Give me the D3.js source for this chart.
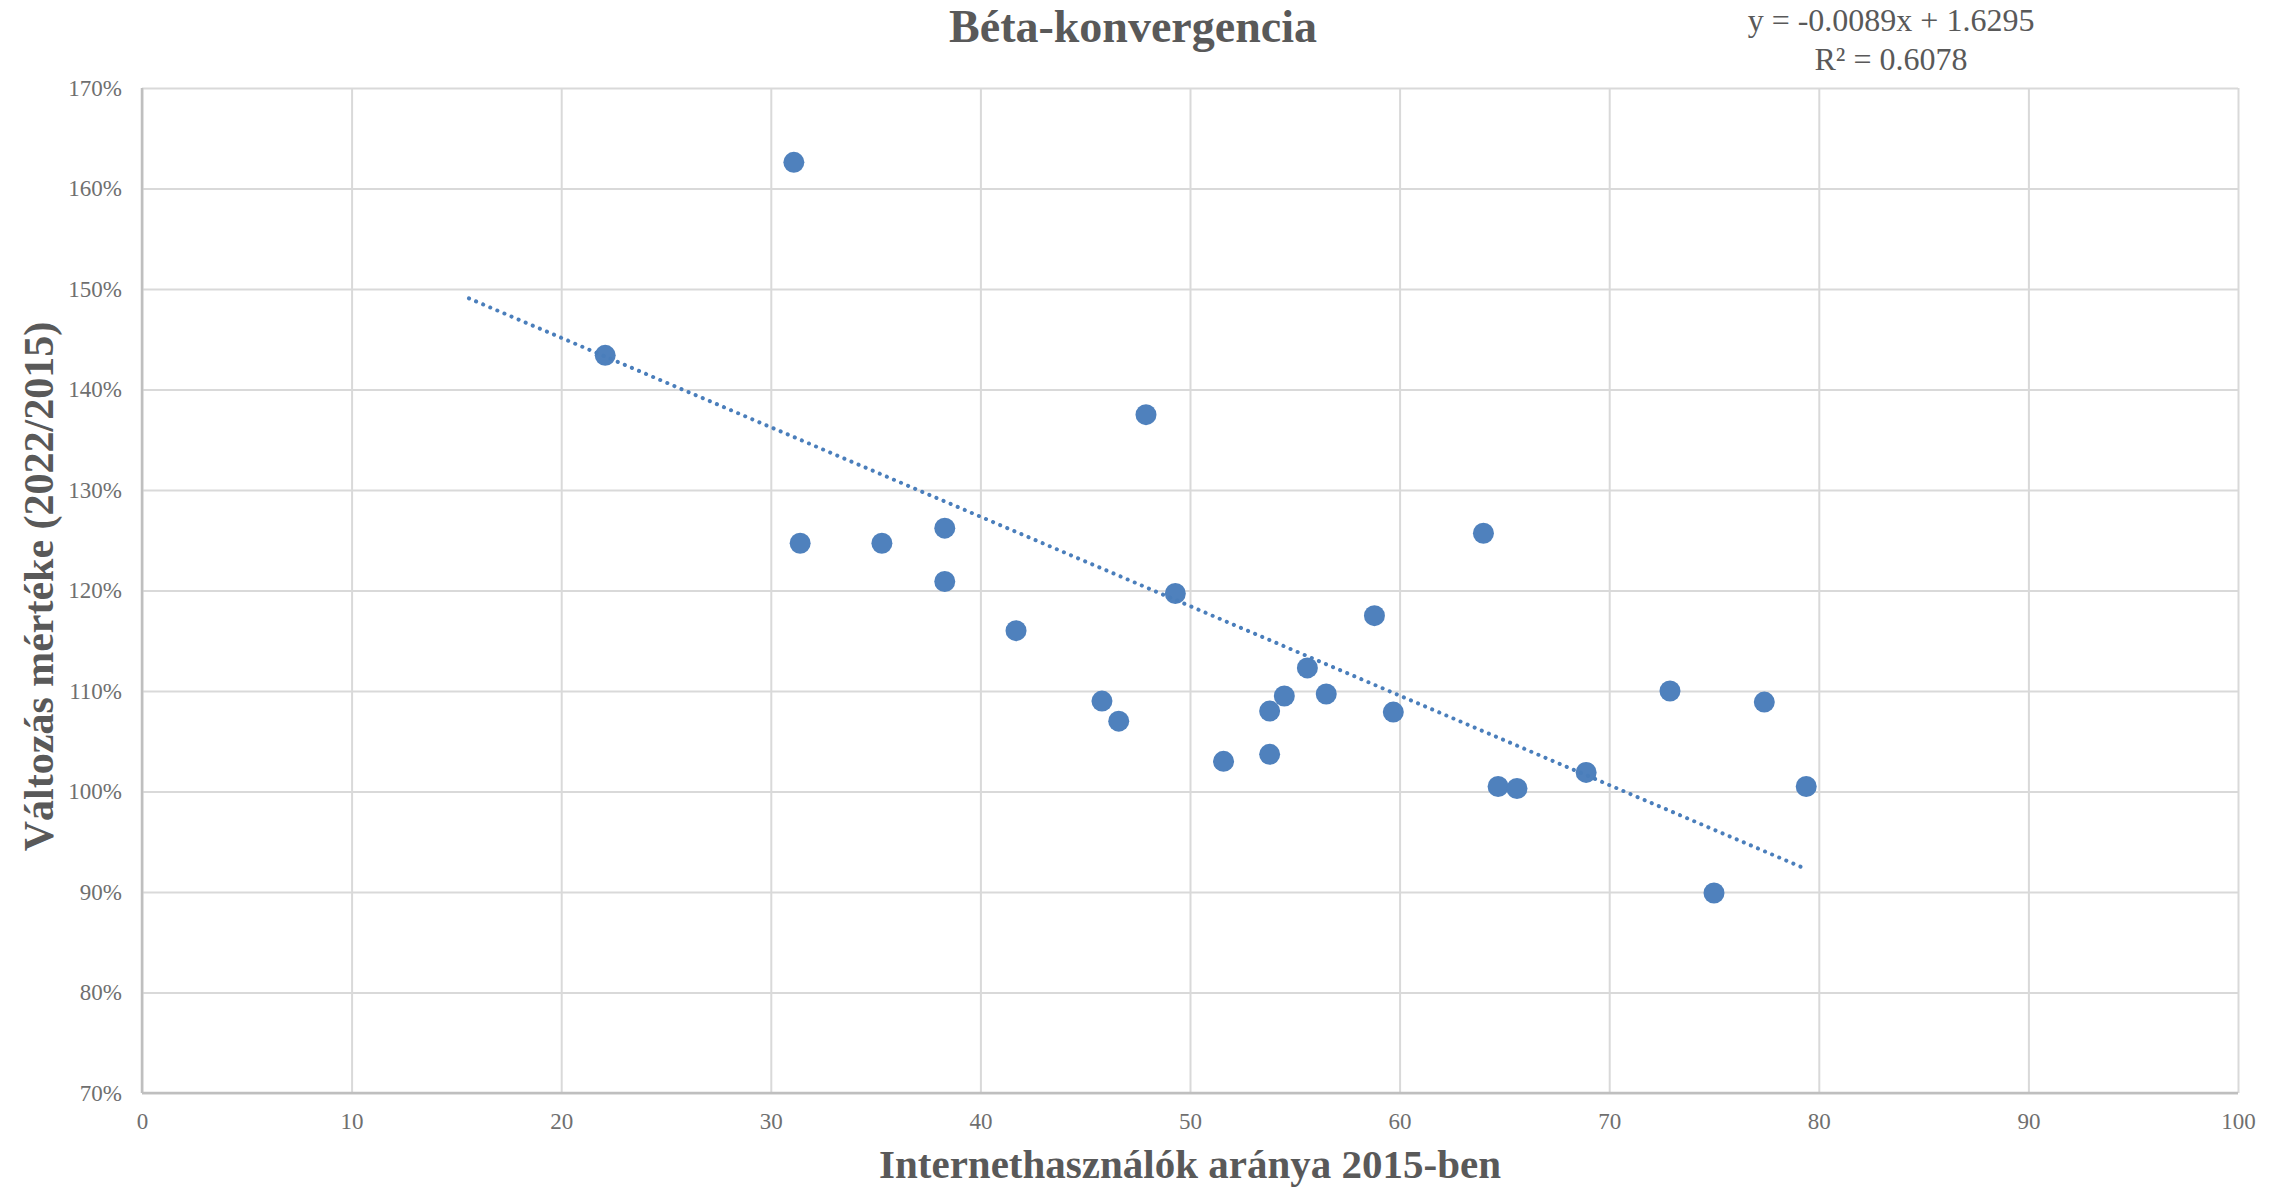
<!DOCTYPE html>
<html>
<head>
<meta charset="utf-8" />
<title>Béta-konvergencia</title>
<style type="text/css">
  html, body { margin: 0; background: #fff; }
  svg text { font-family: "Liberation Serif", "DejaVu Serif", serif; }
  .grid line { stroke: #d9d9d9; stroke-width: 2px; }
  .grid path { display: none; }
  .ticks path, .ticks line { display: none; }
  .ticks text { fill: #6f6f6f; font-size: 23px; }
</style>
</head>
<body>
<div id="container"></div>
<script src="https://cdn.jsdelivr.net/npm/d3@7"></script>
<script>
// internet users share in 2015 (%)
var usersShare = [22.1, 31.1, 31.4, 35.3, 38.3, 38.3, 41.7, 47.9, 49.3, 45.8,
  46.6, 51.6, 53.8, 53.8, 54.5, 55.6, 56.5, 58.8, 59.7, 64.0,
  64.7, 65.6, 68.9, 72.9, 75.0, 77.4, 79.4];
// change 2022/2015 (ratio)
var changeRatio = [1.434, 1.626, 1.247, 1.247, 1.262, 1.209, 1.160, 1.375, 1.197, 1.090,
  1.070, 1.030, 1.080, 1.037, 1.095, 1.123, 1.097, 1.175, 1.079, 1.257,
  1.005, 1.003, 1.019, 1.100, 0.899, 1.089, 1.005];

var xTicks = [0, 10, 20, 30, 40, 50, 60, 70, 80, 90, 100];
var yTicks = [0.7, 0.8, 0.9, 1.0, 1.1, 1.2, 1.3, 1.4, 1.5, 1.6, 1.7];

// linear trendline as reported in the chart
var trendSlope = -0.0089;
var trendIntercept = 1.6295;
var trendR2 = 0.6078;
var trendFrom = 15.6;

var W = 2287, H = 1191;
var margin = {left: 142, right: 49, top: 88, bottom: 98};

var svg = d3.select("#container").append("svg")
    .attr("width", W)
    .attr("height", H);

var x = d3.scaleLinear().domain([0, 100]).range([margin.left, W - margin.right]);
var y = d3.scaleLinear().domain([0.7, 1.7]).range([H - margin.bottom, margin.top]);

// gridlines
svg.append("g")
    .attr("class", "grid")
    .attr("transform", "translate(0," + (H - margin.bottom) + ")")
    .call(d3.axisBottom(x).tickValues(xTicks).tickSize(-(H - margin.bottom - margin.top)).tickFormat(""));
svg.append("g")
    .attr("class", "grid")
    .attr("transform", "translate(" + margin.left + ",0)")
    .call(d3.axisLeft(y).tickValues(yTicks).tickSize(-(W - margin.right - margin.left)).tickFormat(""));

// axis lines
svg.append("line")
    .attr("x1", x(0)).attr("x2", x(100))
    .attr("y1", y(0.7)).attr("y2", y(0.7))
    .attr("stroke", "#bfbfbf").attr("stroke-width", 2.5);
svg.append("line")
    .attr("x1", x(0)).attr("x2", x(0))
    .attr("y1", y(0.7)).attr("y2", y(1.7))
    .attr("stroke", "#bfbfbf").attr("stroke-width", 2.5);

// tick labels
svg.append("g")
    .attr("class", "ticks")
    .attr("transform", "translate(" + margin.left + ",0)")
    .call(d3.axisLeft(y).tickValues(yTicks).tickSize(0).tickPadding(20).tickFormat(d3.format(".0%")));
svg.append("g")
    .attr("class", "ticks")
    .attr("transform", "translate(0," + (H - margin.bottom) + ")")
    .call(d3.axisBottom(x).tickValues(xTicks).tickSize(0).tickPadding(20).tickFormat(d3.format("d")));

// points
var pts = d3.zip(usersShare, changeRatio);
svg.append("g").selectAll("circle")
    .data(pts)
  .enter().append("circle")
    .attr("cx", function(d) { return x(d[0]); })
    .attr("cy", function(d) { return y(d[1]); })
    .attr("r", 10.5)
    .attr("fill", "#4f81bd");

// trendline
var trendEnd = d3.max(usersShare);
var trendPts = [trendFrom, trendEnd].map(function(v) { return [v, trendIntercept + trendSlope * v]; });
var line = d3.line()
    .x(function(d) { return x(d[0]); })
    .y(function(d) { return y(d[1]); });
svg.append("path")
    .datum(trendPts)
    .attr("d", line)
    .attr("fill", "none")
    .attr("stroke", "#4a7ebb")
    .attr("stroke-width", 4)
    .attr("stroke-linecap", "round")
    .attr("stroke-dasharray", "0.1 7.6");

// titles
svg.append("text")
    .attr("x", 1133).attr("y", 42)
    .attr("text-anchor", "middle")
    .attr("font-size", 46)
    .attr("font-weight", "bold")
    .attr("fill", "#595959")
    .text("Béta-konvergencia");

svg.append("text")
    .attr("x", (x(0) + x(100)) / 2).attr("y", 1178)
    .attr("text-anchor", "middle")
    .attr("font-size", 41)
    .attr("font-weight", "bold")
    .attr("fill", "#595959")
    .text("Internethasználók aránya 2015-ben");

svg.append("text")
    .attr("transform", "translate(53," + ((y(0.7) + y(1.7)) / 2 - 4) + ") rotate(-90)")
    .attr("text-anchor", "middle")
    .attr("font-size", 42)
    .attr("font-weight", "bold")
    .attr("fill", "#595959")
    .text("Változás mértéke (2022/2015)");

// trendline label
var eq = svg.append("text")
    .attr("text-anchor", "middle")
    .attr("font-size", 32)
    .attr("fill", "#595959");
eq.append("tspan").attr("x", 1891).attr("y", 31)
    .text("y = " + trendSlope.toFixed(4) + "x + " + trendIntercept.toFixed(4));
eq.append("tspan").attr("x", 1891).attr("y", 70)
    .text("R² = " + trendR2.toFixed(4));
</script>
</body>
</html>
